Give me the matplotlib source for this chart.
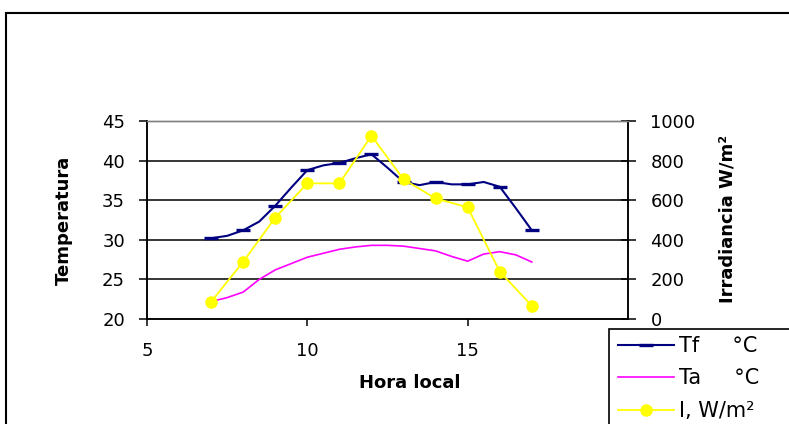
import matplotlib.pyplot as plt
from matplotlib.patches import Rectangle

# mediciones cada media hora
hora = [7, 7.5, 8, 8.5, 9, 9.5, 10, 10.5, 11, 11.5, 12, 12.5, 13, 13.5, 14,
        14.5, 15, 15.5, 16, 16.5, 17]
tf = [30.2, 30.5, 31.2, 32.3, 34.3, 36.6, 38.8, 39.4, 39.7, 40.3, 40.8, 39.1,
      37.3, 36.9, 37.3, 37.0, 37.0, 37.3, 36.7, 34.0, 31.2]
ta = [22.2, 22.7, 23.4, 25.0, 26.2, 27.0, 27.8, 28.3, 28.8, 29.1, 29.3, 29.3,
      29.2, 28.9, 28.6, 27.9, 27.3, 28.2, 28.5, 28.1, 27.2]

# irradiancia cada hora
hora_irr = [7, 8, 9, 10, 11, 12, 13, 14, 15, 16, 17]
irr = [87, 289, 512, 685, 685, 926, 705, 609, 564, 239, 67]

temp_ticks = [20, 25, 30, 35, 40, 45]
irr_ticks = [0, 200, 400, 600, 800, 1000]
x_ticks = [5, 10, 15]

W, H = 789, 424
fig = plt.figure(figsize=(W / 100, H / 100), dpi=100)
ax = fig.add_axes([147 / W, 1 - 319 / H, (628 - 147) / W, (319 - 121) / H])
ax2 = ax.twinx()

l1, = ax.plot(hora, tf, color='#000080', lw=1.5, marker='_', ms=9.5, mew=2.4,
              markevery=slice(0, None, 2), zorder=3)
l2, = ax.plot(hora, ta, color='#FF00FF', lw=1.2, zorder=3)
l3, = ax2.plot(hora_irr, irr, color='#FFFF00', lw=1.3, marker='o', ms=8,
               mec='#FFFF00', zorder=3)

ax.set_xlim(5, 20)
ax.set_ylim(20, 45)
ax2.set_ylim(0, 1000)
ax.set_xticks(x_ticks)
ax.set_yticks(temp_ticks)
ax2.set_yticks(irr_ticks)

for t in temp_ticks[1:-1]:
    ax.axhline(t, color='black', lw=1.1, zorder=1)

for a in (ax, ax2):
    for s in ('left', 'right', 'bottom'):
        a.spines[s].set_color('black')
        a.spines[s].set_linewidth(1.1)
    a.spines['top'].set_color('#808080')
    a.spines['top'].set_linewidth(1.0)

ax.tick_params(axis='y', direction='out', length=5.8, width=1.1, pad=10,
               labelsize=13)
ax.tick_params(axis='x', direction='out', length=5, width=1.1, pad=11.5,
               labelsize=13)
ax2.tick_params(axis='y', direction='inout', length=10.8, width=1.1, pad=10.8,
                labelsize=13)

fig.text(64 / W, 1 - 220 / H, 'Temperatura', rotation=90, fontsize=13,
         fontweight='bold', ha='center', va='center')
fig.text(728 / W, 1 - 219 / H, 'Irradiancia W/m²', rotation=90, fontsize=13,
         fontweight='bold', ha='center', va='center')
fig.text(410 / W, 1 - 383 / H, 'Hora local', fontsize=13, fontweight='bold',
         ha='center', va='center')

# marco exterior y caja de la leyenda
fig.patches.append(Rectangle((6 / W, -0.2), 1.2, 1.2 - 13 / H, fill=False,
                             ec='black', lw=1.5, transform=fig.transFigure,
                             zorder=0))
fig.patches.append(Rectangle((609 / W, -0.2), 0.5, 0.2 + 1 - 329 / H,
                             fc='white', ec='black', lw=1.2,
                             transform=fig.transFigure, zorder=4))

leg = fig.legend([l1, l2, l3], ['Tf     °C', 'Ta     °C', 'I, W/m²'],
                 loc='upper left', bbox_to_anchor=(618 / W, 1 - 336 / H),
                 frameon=False, fontsize=15, handlelength=2.7,
                 handletextpad=0.25, labelspacing=0.6, borderpad=0,
                 borderaxespad=0)
leg.set_zorder(6)

fig.savefig('out.png', dpi=100)
